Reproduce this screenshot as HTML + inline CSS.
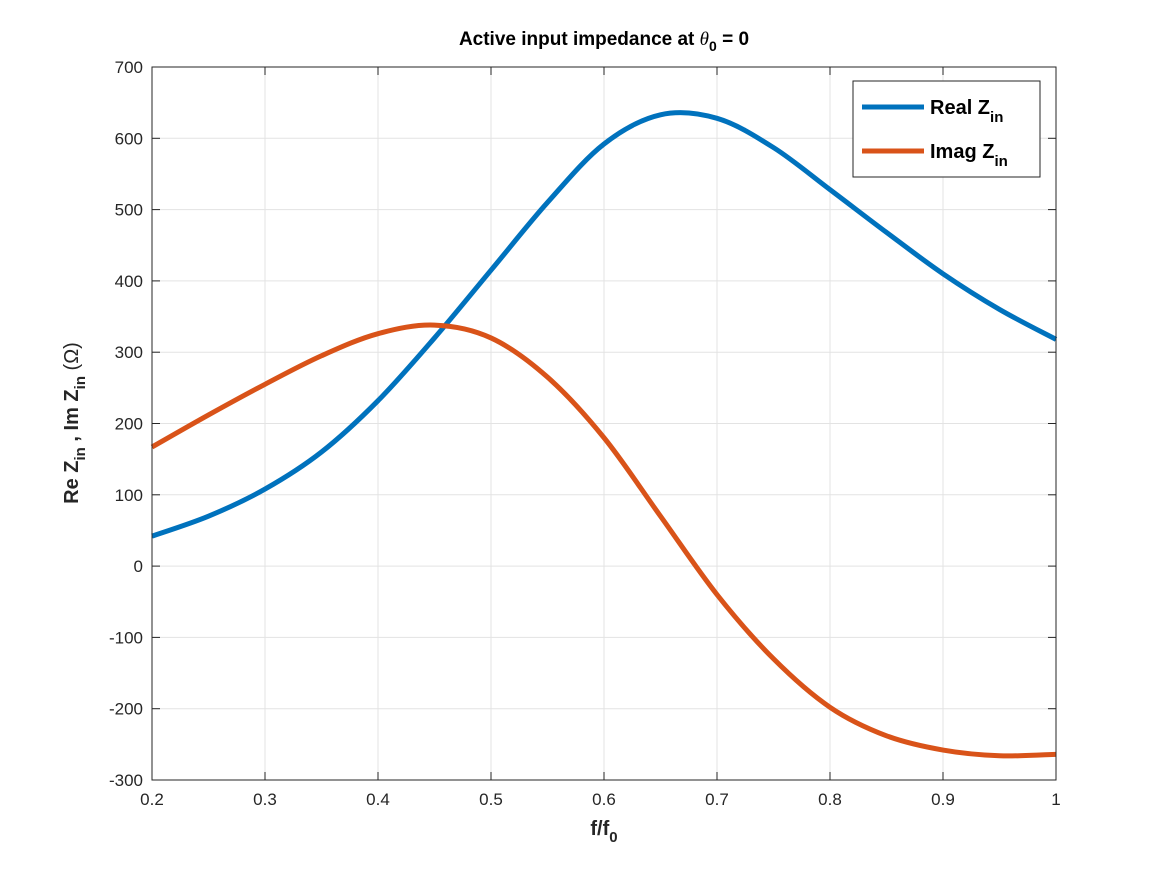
<!DOCTYPE html>
<html><head><meta charset="utf-8"><style>
body{margin:0;background:#fff;}
svg text{font-family:"Liberation Sans",Arial,sans-serif;}
</style></head><body>
<svg id="chart" width="1167" height="875" xmlns="http://www.w3.org/2000/svg">
<rect width="1167" height="875" fill="#fff"/>
<g id="grid"></g>
<g id="curves"></g>
<g id="axes"></g>
<text x="604" y="45" text-anchor="middle" font-size="19" font-weight="bold" fill="#000">Active input impedance at <tspan font-family="Liberation Serif" font-style="italic" font-weight="normal">θ</tspan><tspan font-size="14" dy="6">0</tspan><tspan dy="-6"> = 0</tspan></text>
<text x="604" y="835" text-anchor="middle" font-size="20" font-weight="bold" fill="#262626">f/f<tspan font-size="15" dy="7">0</tspan></text>
<text transform="translate(78,423) rotate(-90)" text-anchor="middle" font-size="20" font-weight="bold" fill="#262626">Re Z<tspan font-size="15" dy="7">in</tspan><tspan dy="-7"> , Im Z</tspan><tspan font-size="15" dy="7">in</tspan><tspan dy="-7" font-weight="normal"> (Ω)</tspan></text>
<g>
<rect x="853" y="81" width="187" height="96" fill="#fff" stroke="#262626" stroke-width="1"/>
<line x1="862" y1="107" x2="924" y2="107" stroke="#0072BD" stroke-width="5"/>
<text x="930" y="114" font-size="20" font-weight="bold">Real Z<tspan font-size="15" dy="8">in</tspan></text>
<line x1="862" y1="151" x2="924" y2="151" stroke="#D95319" stroke-width="5"/>
<text x="930" y="158" font-size="20" font-weight="bold">Imag Z<tspan font-size="15" dy="8">in</tspan></text>
</g>
</svg>
<script>
const xs=[0.2,0.25,0.3,0.35,0.4,0.45,0.5,0.55,0.6,0.65,0.7,0.75,0.8,0.85,0.9,0.95,1.0];
const realZ=[42,70,108,160,232,320,415,510,592,633,628,587,528,468,410,360,318];
const imagZ=[167,212,255,295,326,338,320,265,180,70,-40,-130,-198,-238,-258,-266,-264];
const xTicks=[0.2,0.3,0.4,0.5,0.6,0.7,0.8,0.9,1];
const xTickLabels=["0.2","0.3","0.4","0.5","0.6","0.7","0.8","0.9","1"];
const yTicks=[-300,-200,-100,0,100,200,300,400,500,600,700];
const L=152,R=1056,T=67,B=780;
const X=v=>L+(v-0.2)/(0.8)*(R-L);
const Y=v=>B-(v+300)/1000*(B-T);
const NS="http://www.w3.org/2000/svg";
function mk(tag,attrs,parent){const e=document.createElementNS(NS,tag);for(const k in attrs)e.setAttribute(k,attrs[k]);parent.appendChild(e);return e;}
const grid=document.getElementById('grid'),axes=document.getElementById('axes'),curves=document.getElementById('curves');
xTicks.forEach((t,i)=>{const x=X(t);
 const g=mk('line',{x1:x,y1:T,x2:x,y2:B,stroke:'#e3e3e3','stroke-width':1},grid);
 
 mk('line',{x1:x,y1:B,x2:x,y2:B-8,stroke:'#262626'},axes);mk('line',{x1:x,y1:T,x2:x,y2:T+8,stroke:'#262626'},axes);
 const tx=mk('text',{x:x,y:B+25,'text-anchor':'middle','font-size':17,fill:'#262626'},axes);tx.textContent=xTickLabels[i];
 });
yTicks.forEach(t=>{const y=Y(t);
 const g=mk('line',{x1:L,y1:y,x2:R,y2:y,stroke:'#e3e3e3','stroke-width':1},grid);
 
 mk('line',{x1:L,y1:y,x2:L+8,y2:y,stroke:'#262626'},axes);mk('line',{x1:R,y1:y,x2:R-8,y2:y,stroke:'#262626'},axes);
 const tx=mk('text',{x:L-9,y:y+6,'text-anchor':'end','font-size':17,fill:'#262626'},axes);tx.textContent=String(t);
 });
const box=mk('rect',{x:L,y:T,width:R-L,height:B-T,fill:'none',stroke:'#262626','stroke-width':1},axes);

function path(vals){const p=xs.map((x,i)=>[X(x),Y(vals[i])]);let d='M'+p[0][0]+','+p[0][1];
 for(let i=0;i<p.length-1;i++){const p0=p[Math.max(0,i-1)],p1=p[i],p2=p[i+1],p3=p[Math.min(p.length-1,i+2)];
  d+=' C'+(p1[0]+(p2[0]-p0[0])/6)+','+(p1[1]+(p2[1]-p0[1])/6)+' '+(p2[0]-(p3[0]-p1[0])/6)+','+(p2[1]-(p3[1]-p1[1])/6)+' '+p2[0]+','+p2[1];}
 return d;}
const c1=mk('path',{d:path(realZ),fill:'none',stroke:'#0072BD','stroke-width':5},curves);

const c2=mk('path',{d:path(imagZ),fill:'none',stroke:'#D95319','stroke-width':5},curves);

</script>
</body></html>
